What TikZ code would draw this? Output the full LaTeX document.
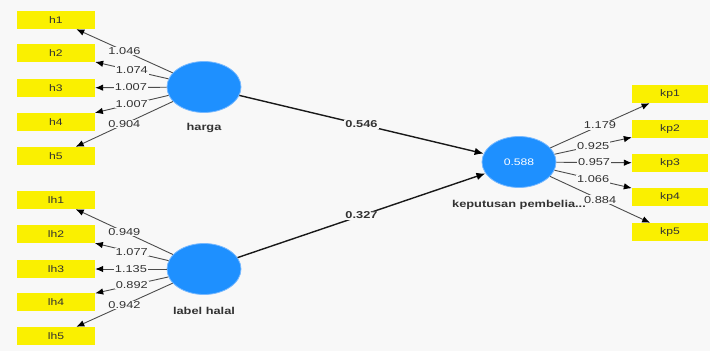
\documentclass[tikz,border=0pt]{standalone}
\usepackage{fontspec}
\setmainfont{Liberation Sans}
\usepackage{graphicx}
\usetikzlibrary{shapes.geometric,arrows.meta}

\definecolor{canvas}{RGB}{248,248,248}
\definecolor{latent}{RGB}{30,144,255}
\definecolor{latentrim}{RGB}{120,185,255}
\definecolor{indic}{RGB}{250,240,0}
\definecolor{txt}{RGB}{50,50,50}

% horizontally widened text
\newcommand{\stretchtxt}[1]{\scalebox{1.28}[1]{#1}}

\tikzset{
  indbox/.style={fill=indic, minimum width=78pt, minimum height=18pt, inner sep=0pt,
                 font=\fontsize{9.5}{11}\selectfont, text=txt},
  latentvar/.style={ellipse, fill=latent, draw=latentrim, line width=0.8pt,
                    minimum width=74pt, minimum height=51pt, inner sep=0pt,
                    font=\fontsize{9.5}{11}\selectfont, text=white},
  latentname/.style={font=\bfseries\fontsize{10}{12}\selectfont, text=black!80},
  loading/.style={draw=black!70, line width=0.9pt, -{Latex[length=8pt,width=6.5pt,color=black]}},
  structpath/.style={draw=black!90, line width=1.4pt, -{Latex[length=9pt,width=7.5pt,color=black]}},
  weight/.style={fill=canvas, inner sep=0.8pt, text=txt, font=\fontsize{10}{12}\selectfont},
  coef/.style={fill=canvas, inner sep=1pt, text=black!80, font=\bfseries\fontsize{10}{12}\selectfont},
}

\begin{document}
\begin{tikzpicture}[x=1pt,y=-1pt]
  \fill[canvas] (0,0) rectangle (710,351);
  \useasboundingbox (0,0) rectangle (710,351);

  % latent variables
  \node[latentvar] (harga) at (204,87) {};
  \node[latentvar] (halal) at (204,269) {};
  \node[latentvar] (kp) at (519,162) {\stretchtxt{0.588}};
  \node[latentname] (harganame) at (204,128) {\stretchtxt{harga}};
  \node[latentname] (halalname) at (204,311) {\stretchtxt{label halal}};
  \node[latentname] (kpname) at (519,205) {\stretchtxt{keputusan pembelia...}};

  % indicators of harga
  \node[indbox] (h1) at (56,20) {\stretchtxt{h1}};
  \node[indbox] (h2) at (56,53) {\stretchtxt{h2}};
  \node[indbox] (h3) at (56,88) {\stretchtxt{h3}};
  \node[indbox] (h4) at (56,122) {\stretchtxt{h4}};
  \node[indbox] (h5) at (56,156) {\stretchtxt{h5}};

  % indicators of label halal
  \node[indbox] (lh1) at (56,200) {\stretchtxt{lh1}};
  \node[indbox] (lh2) at (56,234) {\stretchtxt{lh2}};
  \node[indbox] (lh3) at (56,269) {\stretchtxt{lh3}};
  \node[indbox] (lh4) at (56,302) {\stretchtxt{lh4}};
  \node[indbox] (lh5) at (56,336) {\stretchtxt{lh5}};

  % indicators of keputusan pembelian
  \node[indbox, minimum width=76pt] (kp1) at (670,94) {\stretchtxt{kp1}};
  \node[indbox, minimum width=76pt] (kp2) at (670,129) {\stretchtxt{kp2}};
  \node[indbox, minimum width=76pt] (kp3) at (670,163) {\stretchtxt{kp3}};
  \node[indbox, minimum width=76pt] (kp4) at (670,197) {\stretchtxt{kp4}};
  \node[indbox, minimum width=76pt] (kp5) at (670,232) {\stretchtxt{kp5}};

  % outer loadings
  \draw[loading] (harga) -- node[weight] {\stretchtxt{1.046}} (h1);
  \draw[loading] (harga) -- node[weight] {\stretchtxt{1.074}} (h2);
  \draw[loading] (harga) -- node[weight] {\stretchtxt{1.007}} (h3);
  \draw[loading] (harga) -- node[weight] {\stretchtxt{1.007}} (h4);
  \draw[loading] (harga) -- node[weight] {\stretchtxt{0.904}} (h5);

  \draw[loading] (halal) -- node[weight] {\stretchtxt{0.949}} (lh1);
  \draw[loading] (halal) -- node[weight] {\stretchtxt{1.077}} (lh2);
  \draw[loading] (halal) -- node[weight] {\stretchtxt{1.135}} (lh3);
  \draw[loading] (halal) -- node[weight] {\stretchtxt{0.892}} (lh4);
  \draw[loading] (halal) -- node[weight] {\stretchtxt{0.942}} (lh5);

  \draw[loading] (kp) -- node[weight] {\stretchtxt{1.179}} (kp1);
  \draw[loading] (kp) -- node[weight] {\stretchtxt{0.925}} (kp2);
  \draw[loading] (kp) -- node[weight] {\stretchtxt{0.957}} (kp3);
  \draw[loading] (kp) -- node[weight] {\stretchtxt{1.066}} (kp4);
  \draw[loading] (kp) -- node[weight] {\stretchtxt{0.884}} (kp5);

  % path coefficients
  \draw[structpath] (harga) -- node[coef] {\stretchtxt{0.546}} (kp);
  \draw[structpath] (halal) -- node[coef] {\stretchtxt{0.327}} (kp);
\end{tikzpicture}
\end{document}
